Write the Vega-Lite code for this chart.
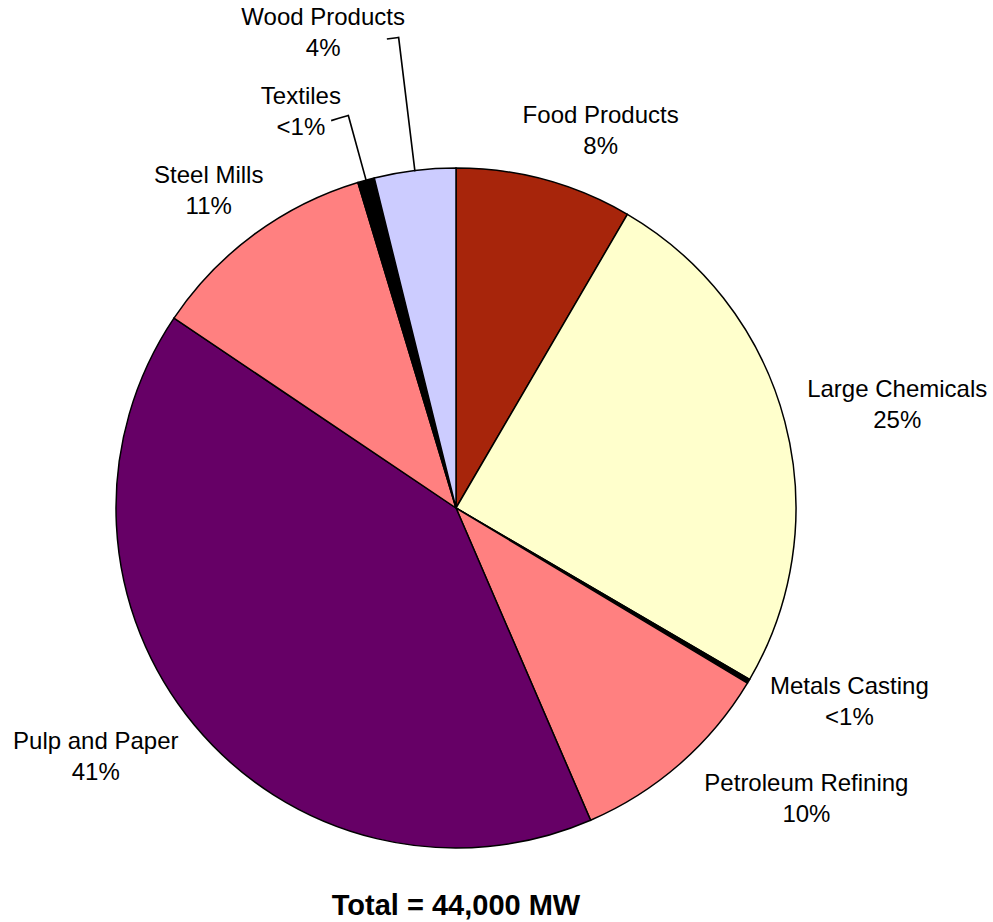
{
  "$schema": "https://vega.github.io/schema/vega-lite/v6.json",
  "width": 744,
  "height": 744,
  "autosize": "none",
  "padding": {"left": 84, "top": 136, "right": 165, "bottom": 42},
  "background": "white",
  "config": {"view": {"stroke": null}, "font": "Liberation Sans"},
  "title": {
    "text": "Total = 44,000 MW",
    "orient": "bottom",
    "anchor": "middle",
    "fontSize": 29,
    "fontWeight": "bold",
    "font": "Liberation Sans",
    "color": "black",
    "offset": 12
  },
  "data": {
    "values": [
      {"category": "Food Products", "mw": 3700, "pct": "8%", "order": 1},
      {"category": "Large Chemicals", "mw": 11000, "pct": "25%", "order": 2},
      {"category": "Metals Casting", "mw": 90, "pct": "<1%", "order": 3},
      {"category": "Petroleum Refining", "mw": 4360, "pct": "10%", "order": 4},
      {"category": "Pulp and Paper", "mw": 18000, "pct": "41%", "order": 5},
      {"category": "Steel Mills", "mw": 4800, "pct": "11%", "order": 6},
      {"category": "Textiles", "mw": 350, "pct": "<1%", "order": 7},
      {"category": "Wood Products", "mw": 1700, "pct": "4%", "order": 8}
    ]
  },
  "transform": [
    {"stack": "mw", "groupby": [], "sort": [{"field": "order", "order": "ascending"}], "as": ["v0", "v1"]},
    {"calculate": "(datum.v0 + datum.v1) / 2", "as": "mid"},
    {"calculate": "[datum.category, datum.pct]", "as": "lbl"}
  ],
  "layer": [
    {
      "mark": {"type": "arc", "radius": 340, "stroke": "black", "strokeWidth": 1.5},
      "encoding": {
        "theta": {"field": "v0", "type": "quantitative", "stack": null, "scale": {"domain": [0, 44000]}},
        "theta2": {"field": "v1"},
        "color": {
          "field": "category",
          "type": "nominal",
          "legend": null,
          "scale": {
            "domain": ["Food Products", "Large Chemicals", "Metals Casting", "Petroleum Refining", "Pulp and Paper", "Steel Mills", "Textiles", "Wood Products"],
            "range": ["#A7250B", "#FFFFCC", "#000000", "#FF8080", "#660066", "#FF8080", "#000000", "#CCCCFF"]
          }
        }
      }
    },
    {
      "transform": [{"filter": "datum.category == 'Textiles'"}],
      "mark": {"type": "arc", "radius": 407, "radius2": 340, "filled": false, "stroke": "black", "strokeWidth": 1.6, "theta2Offset": 0.0001},
      "encoding": {
        "theta": {"field": "mid", "type": "quantitative", "stack": null, "scale": {"domain": [0, 44000]}},
        "theta2": {"field": "mid"}
      }
    },
    {
      "transform": [{"filter": "datum.category == 'Textiles'"}],
      "mark": {"type": "arc", "radius": 407, "radius2": 407, "filled": false, "stroke": "black", "strokeWidth": 1.6, "thetaOffset": -0.044},
      "encoding": {
        "theta": {"field": "mid", "type": "quantitative", "stack": null, "scale": {"domain": [0, 44000]}},
        "theta2": {"field": "mid"}
      }
    },
    {
      "transform": [{"filter": "datum.category == 'Wood Products'"}],
      "mark": {"type": "arc", "radius": 474, "radius2": 340, "filled": false, "stroke": "black", "strokeWidth": 1.6, "theta2Offset": 0.0001},
      "encoding": {
        "theta": {"field": "mid", "type": "quantitative", "stack": null, "scale": {"domain": [0, 44000]}},
        "theta2": {"field": "mid"}
      }
    },
    {
      "transform": [{"filter": "datum.category == 'Wood Products'"}],
      "mark": {"type": "arc", "radius": 474, "radius2": 474, "filled": false, "stroke": "black", "strokeWidth": 1.6, "thetaOffset": -0.025},
      "encoding": {
        "theta": {"field": "mid", "type": "quantitative", "stack": null, "scale": {"domain": [0, 44000]}},
        "theta2": {"field": "mid"}
      }
    },
    {
      "transform": [{"filter": "datum.category == 'Food Products'"}],
      "mark": {"type": "text", "radius": 420, "dx": 35, "dy": 13.5, "fontSize": 24, "lineHeight": 31, "align": "center", "baseline": "middle", "color": "black", "font": "Liberation Sans"},
      "encoding": {"theta": {"field": "mid", "type": "quantitative", "stack": null, "scale": {"domain": [0, 44000]}}, "text": {"field": "lbl"}}
    },
    {
      "transform": [{"filter": "datum.category == 'Large Chemicals'"}],
      "mark": {"type": "text", "radius": 420, "dx": 35, "dy": -11.5, "fontSize": 24, "lineHeight": 31, "align": "center", "baseline": "middle", "color": "black", "font": "Liberation Sans"},
      "encoding": {"theta": {"field": "mid", "type": "quantitative", "stack": null, "scale": {"domain": [0, 44000]}}, "text": {"field": "lbl"}}
    },
    {
      "transform": [{"filter": "datum.category == 'Metals Casting'"}],
      "mark": {"type": "text", "radius": 420, "dx": 32, "dy": -35.5, "fontSize": 24, "lineHeight": 31, "align": "center", "baseline": "middle", "color": "black", "font": "Liberation Sans"},
      "encoding": {"theta": {"field": "mid", "type": "quantitative", "stack": null, "scale": {"domain": [0, 44000]}}, "text": {"field": "lbl"}}
    },
    {
      "transform": [{"filter": "datum.category == 'Petroleum Refining'"}],
      "mark": {"type": "text", "radius": 420, "dx": 74, "dy": -40.5, "fontSize": 24, "lineHeight": 31, "align": "center", "baseline": "middle", "color": "black", "font": "Liberation Sans"},
      "encoding": {"theta": {"field": "mid", "type": "quantitative", "stack": null, "scale": {"domain": [0, 44000]}}, "text": {"field": "lbl"}}
    },
    {
      "transform": [{"filter": "datum.category == 'Pulp and Paper'"}],
      "mark": {"type": "text", "radius": 420, "dx": -37, "dy": -34.5, "fontSize": 24, "lineHeight": 31, "align": "center", "baseline": "middle", "color": "black", "font": "Liberation Sans"},
      "encoding": {"theta": {"field": "mid", "type": "quantitative", "stack": null, "scale": {"domain": [0, 44000]}}, "text": {"field": "lbl"}}
    },
    {
      "transform": [{"filter": "datum.category == 'Steel Mills'"}],
      "mark": {"type": "text", "radius": 420, "dx": 2, "dy": 6.5, "fontSize": 24, "lineHeight": 31, "align": "center", "baseline": "middle", "color": "black", "font": "Liberation Sans"},
      "encoding": {"theta": {"field": "mid", "type": "quantitative", "stack": null, "scale": {"domain": [0, 44000]}}, "text": {"field": "lbl"}}
    },
    {
      "transform": [{"filter": "datum.category == 'Textiles'"}],
      "mark": {"type": "text", "radius": 420, "dx": -44, "dy": -5.5, "fontSize": 24, "lineHeight": 31, "align": "center", "baseline": "middle", "color": "black", "font": "Liberation Sans"},
      "encoding": {"theta": {"field": "mid", "type": "quantitative", "stack": null, "scale": {"domain": [0, 44000]}}, "text": {"field": "lbl"}}
    },
    {
      "transform": [{"filter": "datum.category == 'Wood Products'"}],
      "mark": {"type": "text", "radius": 420, "dx": -82, "dy": -73.5, "fontSize": 24, "lineHeight": 31, "align": "center", "baseline": "middle", "color": "black", "font": "Liberation Sans"},
      "encoding": {"theta": {"field": "mid", "type": "quantitative", "stack": null, "scale": {"domain": [0, 44000]}}, "text": {"field": "lbl"}}
    }
  ]
}
